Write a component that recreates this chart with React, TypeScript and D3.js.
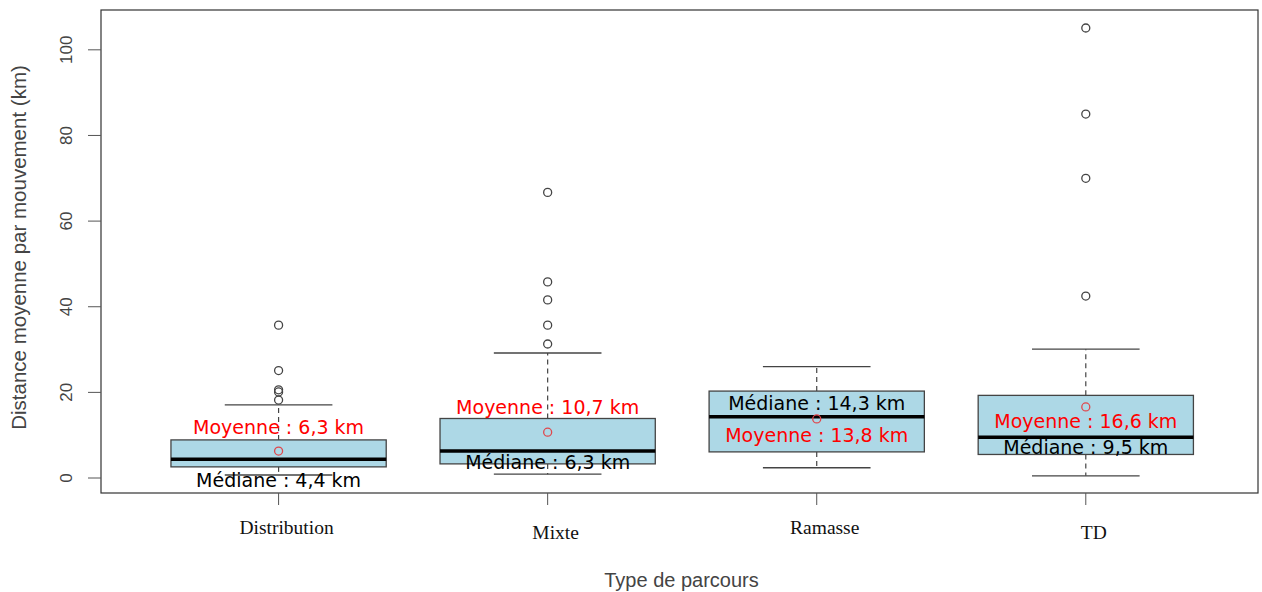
import React from "react";
import * as d3 from "d3";

const categories = ["Distribution", "Mixte", "Ramasse", "TD"];
const q1 = [2.6, 3.3, 6.1, 5.5];
const medians = [4.4, 6.3, 14.3, 9.5];
const q3 = [8.9, 13.9, 20.3, 19.3];
const whiskerLow = [0.7, 0.9, 2.4, 0.5];
const whiskerHigh = [17.1, 29.2, 26.0, 30.1];
const means = [6.3, 10.7, 13.8, 16.6];
const outliers = [
  [35.7, 25.1, 20.6, 20.1, 18.2],
  [66.7, 45.8, 41.6, 35.7, 31.3],
  [],
  [105.1, 85.0, 70.0, 42.5],
];
const meanLabels = ["Moyenne : 6,3 km", "Moyenne : 10,7 km", "Moyenne : 13,8 km", "Moyenne : 16,6 km"];
const medianLabels = ["Médiane : 4,4 km", "Médiane : 6,3 km", "Médiane : 14,3 km", "Médiane : 9,5 km"];
// vertical anchor of each annotation, in km
const meanLabelAt = [12.0, 16.6, 10.0, 13.4];
const medianLabelAt = [-0.5, 3.8, 17.5, 7.3];
const yTicks = [0, 20, 40, 60, 80, 100];

const W = 1262;
const H = 592;
const plot = { left: 101, right: 1258, top: 10, bottom: 493 };

export default function App() {
  const x = d3.scaleLinear().domain([0.34, 4.64]).range([plot.left, plot.right]);
  const y = d3.scaleLinear().domain([-3.5, 109.3]).range([plot.bottom, plot.top]);
  const boxW = (x(2) - x(1)) * 0.8;
  const capW = boxW * 0.5;
  const stroke = "#444";

  return (
    <svg width={W} height={H} style={{ position: "absolute", left: 0, top: 0, background: "#fff" }}>
      <rect x={0} y={0} width={W} height={H} fill="#fff" />
      {/* frame */}
      <rect
        x={plot.left}
        y={plot.top}
        width={plot.right - plot.left}
        height={plot.bottom - plot.top}
        fill="none"
        stroke="#333"
        strokeWidth={1.2}
      />
      {/* y axis */}
      {yTicks.map((t) => (
        <g key={t}>
          <line x1={plot.left - 13} x2={plot.left} y1={y(t)} y2={y(t)} stroke="#555" strokeWidth={1} />
          <text
            transform={`translate(${plot.left - 35},${y(t)}) rotate(-90)`}
            textAnchor="middle"
            dominantBaseline="central"
            fontFamily="Liberation Sans, Arial, sans-serif"
            fontSize={17}
            fill="#444"
          >
            {t}
          </text>
        </g>
      ))}
      <text
        transform={`translate(18,${(plot.top + plot.bottom) / 2 - 4}) rotate(-90)`}
        textAnchor="middle"
        dominantBaseline="central"
        fontFamily="Liberation Sans, Arial, sans-serif"
        fontSize={20.5}
        fill="#444"
      >
        Distance moyenne par mouvement (km)
      </text>
      {/* x axis */}
      {categories.map((c, i) => (
        <g key={c}>
          <line x1={x(i + 1)} x2={x(i + 1)} y1={plot.bottom} y2={plot.bottom + 12} stroke="#555" />
          <text
            x={x(i + 1) + 8}
            y={plot.bottom + (i % 2 === 0 ? 34 : 39)}
            textAnchor="middle"
            dominantBaseline="central"
            fontFamily="Liberation Serif, Times New Roman, serif"
            fontSize={19.5}
            fill="#111"
          >
            {c}
          </text>
        </g>
      ))}
      <text
        x={(plot.left + plot.right) / 2 + 2}
        y={580}
        textAnchor="middle"
        dominantBaseline="central"
        fontFamily="Liberation Sans Narrow, Arial Narrow, Liberation Sans, sans-serif"
        fontSize={20}
        fill="#444"
      >
        Type de parcours
      </text>
      {/* boxes */}
      {categories.map((c, i) => {
        const cx = x(i + 1);
        return (
          <g key={c}>
            <line x1={cx} x2={cx} y1={y(q3[i])} y2={y(whiskerHigh[i])} stroke={stroke} strokeDasharray="5,4" strokeWidth={1.2} />
            <line x1={cx} x2={cx} y1={y(q1[i])} y2={y(whiskerLow[i])} stroke={stroke} strokeDasharray="5,4" strokeWidth={1.2} />
            <line x1={cx - capW / 2} x2={cx + capW / 2} y1={y(whiskerHigh[i])} y2={y(whiskerHigh[i])} stroke={stroke} strokeWidth={1.3} />
            <line x1={cx - capW / 2} x2={cx + capW / 2} y1={y(whiskerLow[i])} y2={y(whiskerLow[i])} stroke={stroke} strokeWidth={1.3} />
            <rect
              x={cx - boxW / 2}
              y={y(q3[i])}
              width={boxW}
              height={y(q1[i]) - y(q3[i])}
              fill="#add8e6"
              stroke={stroke}
              strokeWidth={1.3}
            />
            <line x1={cx - boxW / 2} x2={cx + boxW / 2} y1={y(medians[i])} y2={y(medians[i])} stroke="#000" strokeWidth={3.5} />
            {outliers[i].map((v, j) => (
              <circle key={j} cx={cx} cy={y(v)} r={4} fill="none" stroke="#444" strokeWidth={1.3} />
            ))}
            <circle cx={cx} cy={y(means[i])} r={4} fill="none" stroke="#e0474c" strokeWidth={1.3} />
            <text
              x={cx}
              y={y(meanLabelAt[i])}
              textAnchor="middle"
              dominantBaseline="central"
              fontFamily="DejaVu Sans, Verdana, sans-serif"
              fontSize={19}
              fill="#ff0000"
            >
              {meanLabels[i]}
            </text>
            <text
              x={cx}
              y={y(medianLabelAt[i])}
              textAnchor="middle"
              dominantBaseline="central"
              fontFamily="DejaVu Sans, Verdana, sans-serif"
              fontSize={19}
              fill="#000"
            >
              {medianLabels[i]}
            </text>
          </g>
        );
      })}
    </svg>
  );
}
